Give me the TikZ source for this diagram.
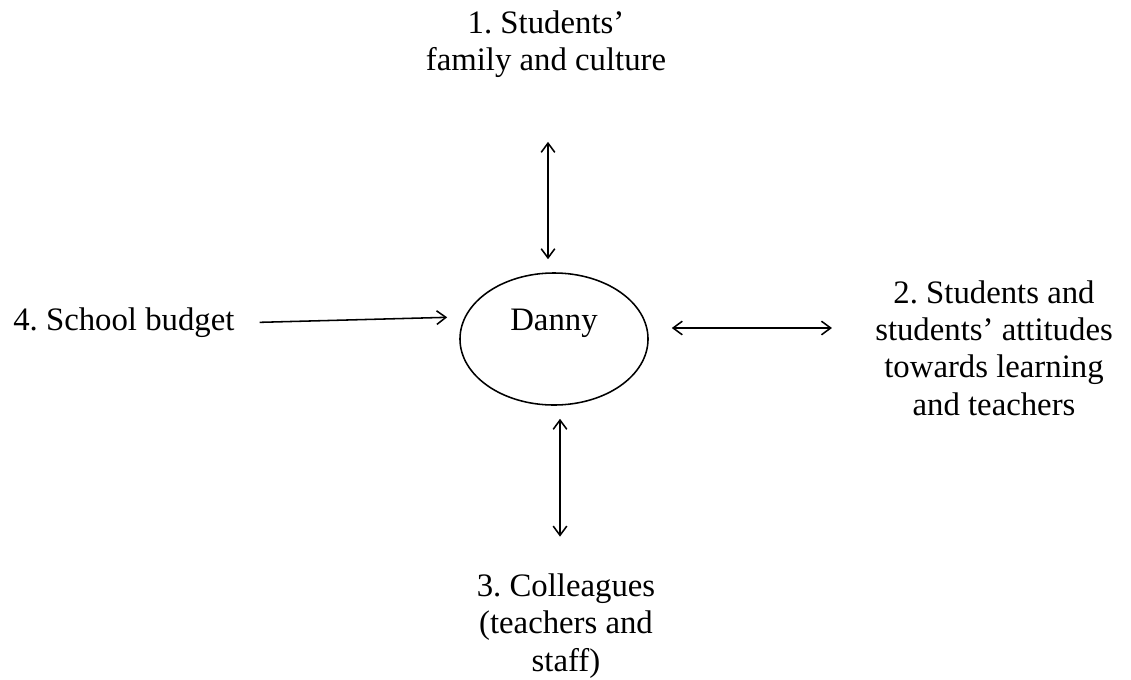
\documentclass[tikz,border=0pt]{standalone}
\usepackage{fontspec}
\setmainfont{Liberation Serif}
\usetikzlibrary{positioning,shapes.geometric,arrows.meta}
\frenchspacing
\tikzset{
topic/.style={align=center, inner sep=0pt, font=\fontsize{23.3}{26.5}\selectfont},
hub/.style={draw, ellipse, line width=1.1pt, minimum width=4.7cm, minimum height=3.3cm},
barb/.tip={Straight Barb[length=2.3mm,width=3.4mm]},
oneway/.style={line width=1.1pt, -barb},
twoway/.style={line width=1.1pt, barb-barb}
}

\begin{document}
\begin{tikzpicture}[x=0.025cm,y=-0.025cm]
\useasboundingbox (0,0) rectangle (1131,679);

\node[hub, label={[topic, yshift=0.4cm]center:Danny}] (danny) at (554,339) {};

\node[topic] (family) at (546,44) {1. Students’\\family and culture};
\node[topic] (attitudes) at (994,348) {2. Students and\\students’ attitudes\\towards learning\\and teachers};
\node[topic] (colleagues) at (566,626) {3. Colleagues\\(teachers and\\staff)};
\node[topic, anchor=west] (budget) at (13,323) {4. School budget};

% links to Danny
\draw[twoway, shorten <=1.6cm, shorten >=0.325cm] ([xshift=-0.15cm]danny.north |- family.south) -- ([xshift=-0.15cm]danny.north);
\draw[twoway, shorten <=0.575cm, shorten >=1.075cm] ([yshift=0.275cm]danny.east) -- ([yshift=0.275cm]danny.east -| attitudes.west);
\draw[twoway, shorten <=0.325cm, shorten >=0.925cm] ([xshift=0.15cm]danny.south) -- ([xshift=0.15cm]danny.south |- colleagues.north);
\draw[oneway, shorten <=0.625cm, shorten >=0.3cm] (budget.east) -- ([yshift=0.55cm]danny.west);
\end{tikzpicture}
\end{document}
